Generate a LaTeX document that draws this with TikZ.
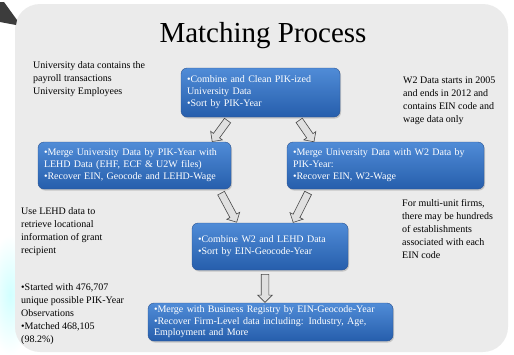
\documentclass[tikz,border=0pt]{standalone}
\usepackage{fontspec}
\setmainfont{Liberation Serif}
\usetikzlibrary{shapes.arrows,shadows}
\definecolor{panelgray}{RGB}{235,235,235}
\definecolor{boxtop}{RGB}{80,140,215}
\definecolor{boxbottom}{RGB}{38,94,172}
\definecolor{boxline}{RGB}{44,84,146}
\definecolor{arrowfill}{RGB}{224,224,224}
\definecolor{arrowline}{RGB}{72,72,72}
\definecolor{cornerdark}{RGB}{60,60,60}

\begin{document}
\begin{tikzpicture}[x=1pt,y=-1pt,
  procbox/.style={rectangle, rounded corners=6pt, draw=boxline, line width=0.4pt,
    top color=boxtop, bottom color=boxbottom, text=white, align=left,
    inner xsep=6pt, inner ysep=0pt, font=\fontsize{10}{12}\selectfont,
    drop shadow={shadow xshift=1pt,shadow yshift=-1.5pt,opacity=0.35}},
  sidenote/.style={anchor=north west, align=left, inner sep=0pt,
    font=\fontsize{10}{13}\selectfont},
  blockarrow/.style={single arrow, draw=arrowline, fill=arrowfill, line width=0.6pt,
    single arrow head extend=3.5pt, single arrow head indent=0pt,
    inner xsep=0pt, inner ysep=3.5pt, sloped, allow upside down}]
\useasboundingbox (0,0) rectangle (514,354);
\shade[inner color=cyan!18, outer color=white] (10,295) ellipse (22 and 60);
\fill[panelgray, rounded corners=25pt] (15,4) rectangle (508,352);
\fill[cornerdark] (0,2) -- (4,2) -- (17,20) -- (16,25) -- (0,22) -- cycle;
\node[font=\fontsize{29}{32}\selectfont] (title) at (263,36) {Matching Process};

\node[procbox, text width=147pt, minimum height=49pt] (clean) at (260.5,92.5)
  {•Combine and Clean PIK-ized\\University Data\\•Sort by PIK-Year};
\node[procbox, text width=181pt, minimum height=47pt] (lehd) at (134.5,165.5)
  {•Merge University Data by PIK-Year with\\LEHD Data (EHF, ECF \& U2W files)\\•Recover EIN, Geocode and LEHD-Wage};
\node[procbox, text width=185pt, minimum height=47pt] (wtwo) at (385.5,165.5)
  {•Merge University Data with W2 Data by\\PIK-Year:\\•Recover EIN, W2-Wage};
\node[procbox, text width=144pt, minimum height=47pt] (combine) at (270,246.5)
  {•Combine W2 and LEHD Data\\•Sort by EIN-Geocode-Year};
\node[procbox, text width=233pt, minimum height=38pt, font=\fontsize{10}{11.5}\selectfont] (registry) at (270.5,322)
  {•Merge with Business Registry by EIN-Geocode-Year\\•Recover Firm-Level data including: Industry, Age,\\Employment and More};

\path ([xshift=-30.5pt]clean.south) -- node[blockarrow, minimum height=26pt] {} ([xshift=77.5pt]lehd.north);
\path ([xshift=36.5pt]clean.south) -- node[blockarrow, minimum height=26pt] {} ([xshift=-71.5pt]wtwo.north);
\path ([xshift=84.5pt]lehd.south) -- node[blockarrow, minimum height=33pt] {} ([xshift=-33pt]combine.north);
\path ([xshift=-75.5pt]wtwo.south) -- node[blockarrow, minimum height=33pt] {} ([xshift=23pt]combine.north);
\path ([xshift=-5pt]combine.south) -- node[blockarrow, minimum height=28pt] {} ([xshift=-5.5pt]registry.north);

\node[sidenote] (univnote) at (33,61)
  {University data contains the\\payroll transactions\\University Employees};
\node[sidenote] (w2note) at (403,77)
  {W2 Data starts in 2005\\and ends in 2012 and\\contains EIN code and\\wage data only};
\node[sidenote] (lehdnote) at (21,207)
  {Use LEHD data to\\retrieve locational\\information of grant\\recipient};
\node[sidenote] (multinote) at (402,199)
  {For multi-unit firms,\\there may be hundreds\\of establishments\\associated with each\\EIN code};
\node[sidenote] (resultnote) at (21,283)
  {•Started with 476,707\\unique possible PIK-Year\\Observations\\•Matched 468,105\\(98.2\%)};
\end{tikzpicture}
\end{document}
